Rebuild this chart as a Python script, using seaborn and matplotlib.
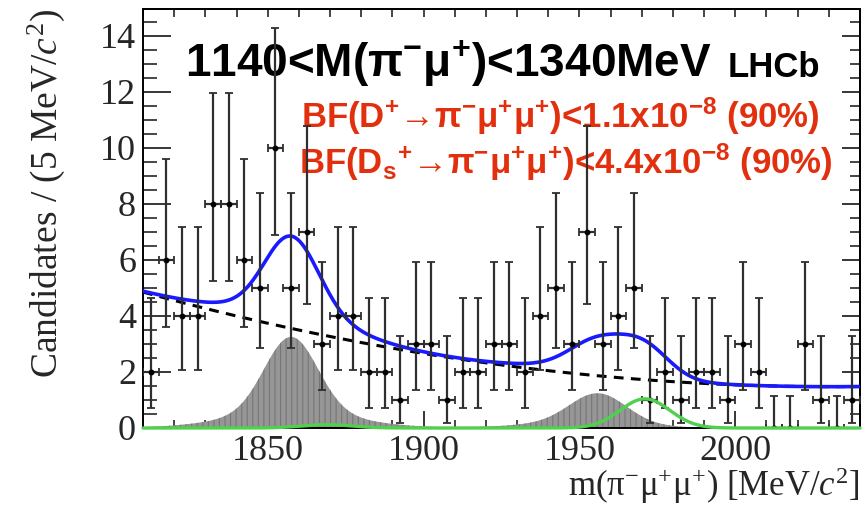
import math
import numpy as np
import pandas as pd
import matplotlib
matplotlib.use("Agg")
import matplotlib.pyplot as plt
import seaborn as sns
from matplotlib.ticker import MultipleLocator

# ---- binned data: candidates per 5 MeV/c^2 bin, 1810 - 2040 MeV/c^2 ----
bin_low = 1810.0
bin_width = 5.0
counts = [2, 6, 4, 4, 8, 8, 6, 5, 10, 5,
          7, 3, 4, 4, 2, 2, 1, 3, 3, 1,
          2, 2, 3, 3, 2, 4, 5, 3, 7, 3,
          4, 5, 1, 2, 1, 2, 2, 1, 3, 2,
          0, 0, 3, 1, 0, 1]

# ---- fit model components (yields in candidates per bin) ----
# combinatorial background: quadratic in (m - 1810)
bkg_coef = [4.85, -0.03057, 6.92e-5]
# misidentified peaks (grey): core + wider tail gaussians
misid_peaks = [  # mean, core amp, core sigma, tail mean, tail amp, tail sigma
    (1857.5, 2.70, 8.5, 1857.5, 0.55, 20.0),
    (1956.0, 1.05, 9.0, 1950.0, 0.20, 18.0),
]
# signal shapes (green): D+ and Ds+
signal_peaks = [  # mean, amp, sigma
    (1869.0, 0.12, 8.0),
    (1971.0, 1.04, 8.0),
]

x_range = (1810, 2040)
y_top = 14.95


def poisson_interval(n, cl=0.6827):
    """Central Poisson interval, zero bins use the one-sided upper limit."""
    alpha = (1.0 - cl) / 2.0
    if n == 0:
        return 0.0, -math.log(1.0 - cl)

    def cdf(k, mu):
        term = s = math.exp(-mu)
        for i in range(1, k + 1):
            term *= mu / i
            s += term
        return s

    def solve(f, lo, hi):
        # f is decreasing in mu
        for _ in range(200):
            mid = 0.5 * (lo + hi)
            if f(mid) > 0:
                lo = mid
            else:
                hi = mid
        return 0.5 * (lo + hi)

    up = solve(lambda mu: cdf(n, mu) - alpha, n, n + 20 + 10 * math.sqrt(n))
    low = solve(lambda mu: alpha - (1.0 - cdf(n - 1, mu)), 0.0, n)
    return low, up


def gauss(x, mu, amp, sig):
    return amp * np.exp(-0.5 * ((x - mu) / sig) ** 2)


centers = bin_low + bin_width * (np.arange(len(counts)) + 0.5)
intervals = [poisson_interval(n) for n in counts]
err_lo = np.array([n - lo for n, (lo, up) in zip(counts, intervals)])
err_hi = np.array([up - n for n, (lo, up) in zip(counts, intervals)])
data = pd.DataFrame({"m": centers, "n": counts})

m = np.linspace(x_range[0], x_range[1], 800)
t = m - x_range[0]
bkg = bkg_coef[0] + bkg_coef[1] * t + bkg_coef[2] * t ** 2
misid = [gauss(m, a, b, c) + gauss(m, d, e, f) for a, b, c, d, e, f in misid_peaks]
signal = sum(gauss(m, a, b, c) for a, b, c in signal_peaks)
total = bkg + sum(misid) + signal
curves = pd.DataFrame({"m": m, "bkg": bkg, "sig": signal, "tot": total})

# ---- style ----
sns.set_theme(style="ticks")
plt.rcParams["font.family"] = ["Liberation Serif", "DejaVu Serif"]
plt.rcParams["mathtext.fontset"] = "custom"
plt.rcParams["mathtext.rm"] = "Liberation Serif"
plt.rcParams["mathtext.it"] = "Liberation Serif:italic"
plt.rcParams["mathtext.bf"] = "Liberation Sans:bold"
plt.rcParams["hatch.linewidth"] = 0.8

W, H = 868, 507
fig = plt.figure(figsize=(W / 100, H / 100), dpi=100)
L, R, T, B = 143, 860, 9, 428
ax = fig.add_axes([L / W, 1 - B / H, (R - L) / W, (B - T) / H])

# grey misID components
for comp in misid:
    ax.fill_between(m, 0, comp, facecolor="#969696", edgecolor="#767676",
                    hatch="|||", linewidth=0, zorder=1)

# signal (green), background (dashed), total (blue)
sns.lineplot(data=curves, x="m", y="sig", color="#4fd04f", linewidth=2.4,
             ax=ax, zorder=7, clip_on=False)
sns.lineplot(data=curves, x="m", y="bkg", color="black", linewidth=2.2,
             linestyle=(0, (3.2, 2.4)), ax=ax, zorder=4)
sns.lineplot(data=curves, x="m", y="tot", color="#1a1aff", linewidth=2.6,
             ax=ax, zorder=5)

# data points with asymmetric Poisson errors
ax.errorbar(data["m"], data["n"], yerr=[err_lo, err_hi], xerr=bin_width / 2,
            fmt="o", ms=3.2, color="black", ecolor="#2f2f2f", elinewidth=1.6,
            capsize=2.6, capthick=1.3, zorder=6)

ax.set_xlim(*x_range)
ax.set_ylim(0, y_top)

for sp in ax.spines.values():
    sp.set_linewidth(1.4)
    sp.set_color("black")
    sp.set_zorder(2)

ax.xaxis.set_major_locator(MultipleLocator(50))
ax.xaxis.set_minor_locator(MultipleLocator(10))
ax.yaxis.set_major_locator(MultipleLocator(2))
ax.yaxis.set_minor_locator(MultipleLocator(0.5))
ax.tick_params(axis="x", which="major", direction="in", length=12, width=1.3,
               labelsize=26, pad=5, top=False)
ax.tick_params(axis="x", which="minor", direction="in", length=6, width=1.2, top=False)
ax.tick_params(axis="y", which="major", direction="in", length=20, width=1.3,
               labelsize=26, pad=5, right=False)
ax.tick_params(axis="y", which="minor", direction="in", length=10, width=1.2, right=False)

sec_x = ax.secondary_xaxis("top")
sec_x.xaxis.set_major_locator(MultipleLocator(50))
sec_x.xaxis.set_minor_locator(MultipleLocator(10))
sec_x.tick_params(which="both", direction="in", length=6, width=1.2, labeltop=False)
sec_y = ax.secondary_yaxis("right")
sec_y.yaxis.set_major_locator(MultipleLocator(2))
sec_y.yaxis.set_minor_locator(MultipleLocator(0.5))
sec_y.tick_params(which="major", direction="in", length=13, width=1.3, labelright=False)
sec_y.tick_params(which="minor", direction="in", length=7, width=1.2)
for s in (sec_x, sec_y):
    for sp in s.spines.values():
        sp.set_linewidth(1.4)

ax.set_xlabel(r"m($\mathrm{\pi}^{\mathrm{-}}\mathrm{\mu}^{\mathrm{+}}\mathrm{\mu}^{\mathrm{+}}$) [MeV/$\mathit{c}^{\mathrm{2}}$]",
              fontsize=25, loc="right")
ax.xaxis.set_label_coords(1.0, (B - 465) / (B - T))
ax.set_ylabel(r"Candidates / (5 MeV/$\mathit{c}^{\mathrm{2}}$)", fontsize=27, loc="top")
ax.yaxis.set_label_coords((67 - L) / (R - L), 1.0)

# annotations
sans = ["Liberation Sans", "DejaVu Sans"]
ax.text(0.058, 0.838, r"1140<M(π$\mathbf{^{-}}$μ$\mathbf{^{+}}$)<1340MeV", transform=ax.transAxes,
        fontsize=33, fontweight="bold", family=sans, color="black", va="baseline")
ax.text(0.815, 0.838, "LHCb", transform=ax.transAxes, fontsize=25,
        fontweight="bold", family=sans, color="black", va="baseline")
red = "#e2300f"
ax.text(0.944, 0.716,
        r"BF(D$\mathbf{^{+}}$→π$\mathbf{^{-}}$μ$\mathbf{^{+}}$μ$\mathbf{^{+}}$)<1.1x10$\mathbf{^{-8}}$ (90%)",
        transform=ax.transAxes, fontsize=25, fontweight="bold", family=sans,
        color=red, ha="right", va="baseline")
ax.text(0.961, 0.606,
        r"BF(D$\mathbf{_{s}}$$\mathbf{^{+}}$→π$\mathbf{^{-}}$μ$\mathbf{^{+}}$μ$\mathbf{^{+}}$)<4.4x10$\mathbf{^{-8}}$ (90%)",
        transform=ax.transAxes, fontsize=25, fontweight="bold", family=sans,
        color=red, ha="right", va="baseline")

fig.savefig("out.png", dpi=100, facecolor="white")
